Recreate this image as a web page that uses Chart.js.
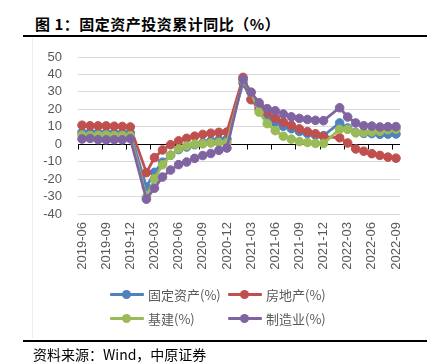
<!DOCTYPE html>
<html>
<head>
<meta charset="utf-8">
<script src="https://cdn.jsdelivr.net/npm/chart.js@4"></script>
<style>
  html, body { margin: 0; padding: 0; background: #fff; }
  body { width: 430px; height: 363px; position: relative; overflow: hidden; font-family: "Noto Sans CJK SC", sans-serif; }
  #title { position: absolute; left: 35px; top: 13px; font-size: 15px; font-weight: bold; color: #000; white-space: nowrap; letter-spacing: 0.5px; }
  .rule { position: absolute; left: 23px; width: 404px; height: 2px; background: #000; }
  #frame { position: absolute; left: 32px; top: 38px; width: 1px; height: 300px; background: #eeeeee; }
  #wrap { position: absolute; left: 0; top: 0; width: 430px; height: 363px; }
  #legend { position: absolute; left: 110px; top: 285px; display: grid; grid-template-columns: 118px 120px; row-gap: 6px; }
  .item { display: flex; align-items: center; height: 18px; font-size: 13px; color: #595959; white-space: nowrap; }
  .swatch { position: relative; width: 34px; height: 3px; margin-right: 4px; border-radius: 1px; }
  .swatch i { position: absolute; left: 12px; top: -3px; width: 9px; height: 9px; border-radius: 50%; }
  #source { position: absolute; left: 33px; top: 344px; font-size: 14px; color: #000; white-space: nowrap; }
</style>
</head>
<body>
<div id="title">图 1：固定资产投资累计同比（%）</div>
<div class="rule" style="top:35px"></div>
<div id="frame"></div>
<div id="wrap"><canvas id="chart"></canvas></div>
<div id="legend"></div>
<div class="rule" style="top:340px"></div>
<div id="source">资料来源：Wind，中原证券</div>

<script>
// 月份（1月无数据，留空）
const months = [
    '2019-06', '2019-07', '2019-08', '2019-09', '2019-10', '2019-11', '2019-12',
    '2020-01', '2020-02', '2020-03', '2020-04', '2020-05', '2020-06', '2020-07', '2020-08', '2020-09', '2020-10', '2020-11', '2020-12',
    '2021-01', '2021-02', '2021-03', '2021-04', '2021-05', '2021-06', '2021-07', '2021-08', '2021-09', '2021-10', '2021-11', '2021-12',
    '2022-01', '2022-02', '2022-03', '2022-04', '2022-05', '2022-06', '2022-07', '2022-08', '2022-09'
];

const fixedAsset = [
    6.8, 6.7, 6.6, 6.5, 6.4, 6.4, 6.5,
    null, -24.5, -16.1, -10.3, -6.3, -3.1, -1.6, -0.3, 0.8, 1.8, 2.6, 2.9,
    null, 35.0, 25.6, 19.9, 15.4, 12.6, 10.3, 8.9, 7.3, 6.1, 5.2, 4.9,
    null, 12.2, 9.3, 6.8, 6.2, 6.1, 5.7, 5.8, 5.9
];
const realEstate = [
    10.9, 10.6, 10.5, 10.5, 10.3, 10.2, 9.9,
    null, -16.3, -7.7, -3.3, -0.3, 1.9, 3.4, 4.6, 5.6, 6.3, 6.8, 7.0,
    null, 38.3, 25.6, 21.6, 18.3, 15.0, 12.7, 10.9, 8.8, 7.2, 6.0, 4.4,
    null, 3.7, 0.7, -2.7, -4.0, -5.4, -6.4, -7.4, -8.0
];
const infra = [
    5.2, 5.0, 5.1, 5.2, 5.0, 5.0, 4.9,
    null, -30.3, -19.7, -11.8, -6.3, -2.7, -1.0, 0.1, 0.2, 0.7, 1.0, 0.9,
    null, 36.6, 29.7, 18.4, 11.8, 7.8, 4.6, 2.9, 1.5, 1.0, 0.5, 0.4,
    null, 8.6, 8.5, 6.5, 6.7, 7.1, 7.4, 8.3, 8.6
];
const manufacturing = [
    3.0, 3.3, 2.6, 2.5, 2.6, 2.5, 3.1,
    null, -31.5, -25.2, -18.8, -14.8, -11.7, -10.2, -8.1, -6.5, -5.3, -3.5, -2.2,
    null, 37.3, 29.8, 23.8, 20.4, 19.2, 17.3, 15.7, 14.8, 14.2, 13.7, 13.5,
    null, 20.9, 15.6, 12.2, 10.6, 10.4, 9.9, 10.0, 10.1
];

const seriesNames = ['固定资产(%)', '房地产(%)', '基建(%)', '制造业(%)'];
const seriesColors = ['#4F81BD', '#C0504D', '#9BBB59', '#8064A2'];
const yTicks = [50, 40, 30, 20, 10, 0, -10, -20, -30, -40];

const seriesData = [fixedAsset, realEstate, infra, manufacturing];

// 零轴与刻度线
const zeroAxis = {
    id: 'zeroAxis',
    beforeDatasetsDraw(chart) {
        const { ctx, chartArea, scales } = chart;
        const y0 = Math.round(scales.y.getPixelForValue(0)) + 0.5;
        const half = (scales.x.getPixelForValue(1) - scales.x.getPixelForValue(0)) / 2;
        ctx.save();
        ctx.strokeStyle = '#000';
        ctx.lineWidth = 1;
        ctx.beginPath();
        ctx.moveTo(chartArea.left, y0);
        ctx.lineTo(chartArea.right, y0);
        for (let i = 0; i < months.length; i += 3) {
            const x = Math.round(scales.x.getPixelForValue(i) - half) + 0.5;
            ctx.moveTo(x, y0);
            ctx.lineTo(x, y0 + 5);
        }
        ctx.stroke();
        ctx.restore();
    }
};

const chart = new Chart(document.getElementById('chart'), {
    type: 'line',
    data: {
        labels: months,
        datasets: seriesData.map((d, i) => ({
            label: seriesNames[i],
            data: d,
            borderColor: seriesColors[i],
            backgroundColor: seriesColors[i],
            pointBackgroundColor: seriesColors[i],
            pointBorderColor: seriesColors[i],
            borderWidth: 2.75,
            pointRadius: 4.3,
            pointBorderWidth: 1,
            tension: 0,
            spanGaps: true,
            order: 3 - i
        }))
    },
    options: {
        responsive: true,
        maintainAspectRatio: false,
        animation: false,
        devicePixelRatio: 1,
        layout: { padding: { top: 57, right: 30, bottom: 79, left: 0 } },
        plugins: {
            legend: { display: false },
            tooltip: { enabled: false }
        },
        scales: {
            x: {
                offset: true,
                grid: { display: false, drawTicks: false },
                border: { display: false },
                ticks: {
                    autoSkip: false,
                    minRotation: 90,
                    maxRotation: 90,
                    padding: 8,
                    color: '#595959',
                    font: { family: 'Liberation Sans', size: 13 },
                    callback: function(value, index) {
                        return index % 3 === 0 ? months[index] : '';
                    }
                },
                afterFit: function(scale) { scale.height = 70; }
            },
            y: {
                min: -40,
                max: 50,
                afterBuildTicks: function(scale) {
                    scale.ticks = yTicks.map(v => ({ value: v }));
                },
                grid: {
                    drawTicks: false,
                    color: ctx => ctx.tick && ctx.tick.value === 0 ? 'rgba(0,0,0,0)' : '#d9d9d9',
                    lineWidth: 1
                },
                border: { display: false },
                ticks: {
                    autoSkip: false,
                    padding: 16,
                    color: '#595959',
                    font: { family: 'Liberation Sans', size: 13 }
                },
                afterFit: function(scale) { scale.width = 78; }
            }
        }
    },
    plugins: [zeroAxis]
});

// 图例
const legendBox = document.getElementById('legend');
seriesNames.forEach((name, i) => {
    const item = document.createElement('div');
    item.className = 'item';
    item.innerHTML = `<span class="swatch" style="background:${seriesColors[i]}"><i style="background:${seriesColors[i]}"></i></span><span>${name}</span>`;
    legendBox.appendChild(item);
});
</script>
</body>
</html>
